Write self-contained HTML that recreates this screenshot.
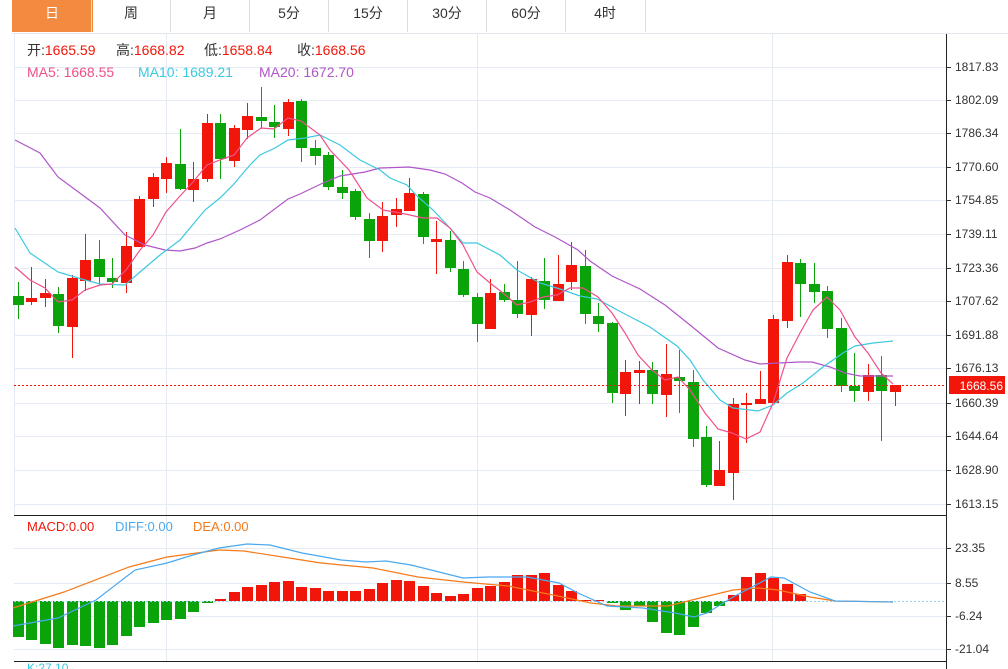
<!DOCTYPE html>
<html><head><meta charset="utf-8"><style>
body{margin:0;width:1008px;height:669px;overflow:hidden;background:#fff;font-family:"Liberation Sans","Noto Sans CJK SC",sans-serif}
svg{position:absolute;left:0;top:0}
</style></head><body>
<svg id="s" width="1008" height="669" xmlns="http://www.w3.org/2000/svg" font-family="Liberation Sans, Noto Sans CJK SC, sans-serif"></svg>
<script>
var S=document.getElementById('s'),h='';
function R(x,y,w,hh,f){h+='<rect x="'+x+'" y="'+y+'" width="'+w+'" height="'+hh+'" fill="'+f+'"/>';}
function L(x1,y1,x2,y2,c,w,d){h+='<line x1="'+x1+'" y1="'+y1+'" x2="'+x2+'" y2="'+y2+'" stroke="'+c+'" stroke-width="'+(w||1)+'"'+(d?' stroke-dasharray="'+d+'"':'')+'/>';}
function T(x,y,t,c,s,a){h+='<text x="'+x+'" y="'+y+'" fill="'+c+'" font-size="'+s+'"'+(a?' text-anchor="'+a+'"':'')+'>'+t+'</text>';}
function P(pts,c){h+='<polyline fill="none" stroke="'+c+'" stroke-width="1.2" points="'+pts+'"/>';}
var tabs=['日','周','月','5分','15分','30分','60分','4时'];
R(12,0,81,32,'#f28a40');
for(var i=0;i<tabs.length;i++){var x=12+i*79;if(i>0)L(x+0.5,0,x+0.5,32,'#ddd');T(x+40,18,tabs[i],i==0?'#fff':'#333',14,'middle');}
L(645.5,0,645.5,32,'#ddd');
L(12,33.5,1008,33.5,'#e3e8ee');
var ys=[67,100,133,167,200,234,268,301,335,368,403,436,470,504],lb=['1817.83','1802.09','1786.34','1770.60','1754.85','1739.11','1723.36','1707.62','1691.88','1676.13','1660.39','1644.64','1628.90','1613.15'];
for(i=0;i<ys.length;i++){L(14,ys[i]+.5,946,ys[i]+.5,'#e4ebf2');L(946,ys[i]+.5,951,ys[i]+.5,'#333');T(955,ys[i]+4,lb[i],'#333',12);}
[166,477,772].forEach(function(x){L(x+.5,34,x+.5,661,'#e4ebf2');});
L(14.5,34,14.5,515,'#e4ebf2');
L(946.5,34,946.5,669,'#222');
L(14,515.5,946,515.5,'#222');L(14,661.5,946,661.5,'#222');
[548,583,616,649].forEach(function(y,i){L(14,y+.5,946,y+.5,'#e4ebf2');L(946,y+.5,951,y+.5,'#333');T(955,y+4,['23.35','8.55','-6.24','-21.04'][i],'#333',12);});
var C=[[296,305,282,319,0],[298,302,267,305,1],[293,298,279,307,1],[294,326,287,333,0],[278,327,275,358,1],[260,281,234,291,1],[259,277,240,285,0],[278,282,258,288,0],[246,283,232,293,1],[199,247,196,247,1],[177,199,173,207,1],[163,179,157,193,1],[164,189,129,190,0],[179,190,162,202,1],[123,179,114,182,1],[123,159,114,179,0],[128,161,125,167,1],[116,130,103,139,1],[117,121,87,129,0],[122,127,105,138,0],[102,129,99,136,1],[101,148,99,162,0],[148,156,140,165,0],
[155,187,152,190,0],[187,193,170,199,0],[191,217,189,220,0],[219,241,213,258,0],[216,241,202,252,1],[209,215,198,227,1],[193,211,178,211,1],[194,237,192,244,0],[239,242,221,274,1],[240,268,231,272,0],[269,295,261,297,0],[297,324,293,342,0],[293,329,279,329,1],[292,300,284,302,0],[300,314,261,318,0],[279,315,277,336,1],[281,300,258,309,0],[284,301,255,301,1],[265,282,242,290,1],[266,314,250,324,0],[316,324,303,332,0],[323,393,322,403,0],
[372,394,360,416,1],[370,373,361,404,1],[370,394,362,404,0],[374,395,344,417,1],[377,381,350,413,0],[382,439,370,447,0],[437,485,426,487,0],[470,486,441,486,1],[404,473,398,500,1],[403,405,393,443,1],[399,404,371,404,1],[319,403,315,403,1],[262,321,255,328,1],[263,284,259,317,0],[284,292,263,303,0],[291,329,286,338,0],[328,386,318,392,0],[386,391,353,402,0],[375,392,364,401,1],[375,391,356,441,0],[385,392,385,406,1]];
var RED='#f2160a',GRN='#0aa30a';
for(i=0;i<C.length;i++){var c=C[i],x=Math.round(18+i*13.49),col=c[4]?RED:GRN;L(x+.5,c[2],x+.5,c[3],col);R(x-5,c[0],11,Math.max(2,c[1]-c[0]),col);}
P('15,140 40,153 58,177 100,208 125,235 145,245 165,250 180,251 195,248 207,243 220,239 240,230 260,220 288,199 300,194 323,183 340,176 365,172 380,168 409,167 430,170 445,174 462,183 475,192 490,198 510,210 535,227 555,237 578,250 590,261 612,276 640,289 665,305 690,325 718,348 745,360 760,364 778,363 800,362 812,362 830,367 845,373 860,376 893,376','#b056c8');
P('15,228 30,253 58,272 85,280 100,284 125,285 140,272 160,255 180,240 205,210 220,198 233,185 250,165 260,155 275,148 288,140 305,138 320,135 340,145 360,160 380,170 390,178 407,185 417,196 433,210 450,228 463,243 477,243 500,255 517,270 540,283 560,289 580,296 597,299 623,313 650,327 677,346 690,360 703,380 720,400 733,408 758,411 773,405 787,393 803,383 823,367 843,353 855,346 873,343 893,341','#3cc8e0');
P('15,267 30,280 45,288 58,302 72,300 85,290 100,285 112,284 126,270 140,250 153,235 166,212 180,196 193,182 207,165 220,160 234,155 247,138 261,128 274,129 288,118 301,121 320,135 330,150 349,170 367,198 383,210 400,213 410,215 423,218 437,218 450,228 463,245 477,272 490,283 503,293 517,305 530,302 543,297 557,295 570,288 583,288 598,297 612,313 625,333 638,355 652,370 665,380 678,377 690,390 705,413 718,429 732,433 746,439 760,432 773,403 787,358 800,333 813,310 827,297 840,310 855,337 868,353 881,373 893,384','#f0508a');
L(14,385.5,946,385.5,'#f2160a',1,'2,2');
R(949,376,56,18,'#f2160a');T(1003,390,'1668.56','#fff',12,'end');
function LG(x,k,v){h+='<text x="'+x+'" y="55" font-size="14"><tspan fill="#333">'+k+'</tspan><tspan fill="#f2160a">'+v+'</tspan></text>';}
LG(27,'开:','1665.59');LG(116,'高:','1668.82');LG(204,'低:','1658.84');LG(297,'收:','1668.56');
T(27,77,'MA5: 1668.55','#f0508a',14);T(138,77,'MA10: 1689.21','#3cc8e0',14);T(259,77,'MA20: 1672.70','#b056c8',14);
var Hv=[637,640,644,648,645,646,648,645,636,627,623,620,619,612,603,599,592,587,585,582,581,587,588,591,591,591,589,583,580,581,586,593,596,594,588,586,582,575,575,573,585,591,600,600,603,610,606,622,633,635,627,613,606,595,577,573,578,584,594,601,601];
for(i=0;i<Hv.length;i++){var x=Math.round(18+i*13.49),v=Hv[i],z=601;if(v>z)R(x-5,z,11,v-z,GRN);else if(v<z)R(x-5,v,11,z-v,RED);}
L(14,601.5,946,601.5,'#9fd0ee',1,'2,2');
P('13,608 64,592 129,567 167,557 219,550 244,551 289,558 321,563 373,568 418,577 463,582 508,586 553,595 591,603 617,606 668,606 700,598 733,590 758,588 778,590 810,597 835,601 893,602','#f57a1a');
P('13,626 58,618 96,600 135,570 167,563 193,555 219,548 247,544 270,545 302,553 341,560 366,562 386,561 411,565 463,578 488,577 527,577 559,583 578,593 607,606 643,608 675,613 694,617 707,613 733,597 771,577 784,578 810,592 835,601 893,602','#4aa8f0');
T(27,531,'MACD:0.00','#f2160a',13);T(115,531,'DIFF:0.00','#4aa8f0',13);T(193,531,'DEA:0.00','#f57a1a',13);
T(27,672,'K:27.10','#3cc8e0',12);
S.innerHTML=h;
</script>
</body></html>
